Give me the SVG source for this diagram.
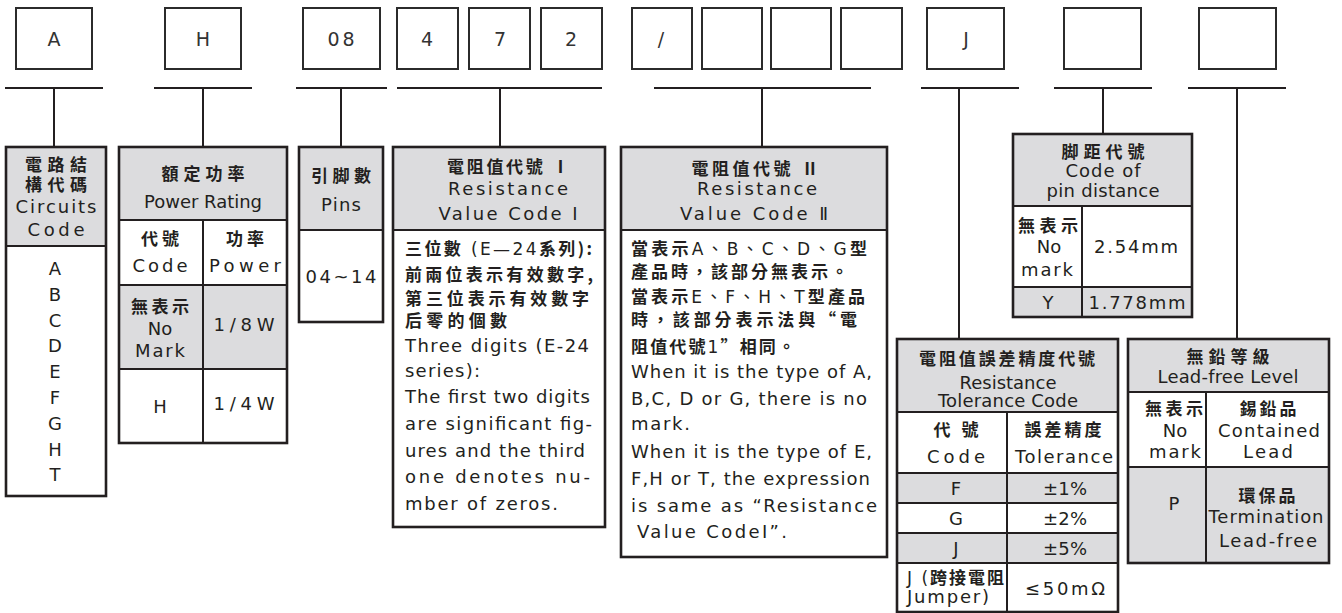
<svg xmlns="http://www.w3.org/2000/svg" width="1342" height="613" viewBox="0 0 1342 613">
<style>
.bx{fill:#fff;stroke:#2b2b2b;stroke-width:2}
.ln{stroke:#231f20;stroke-width:2;fill:none}
.ol{fill:none;stroke:#231f20;stroke-width:2.6}
.il{stroke:#231f20;stroke-width:2;fill:none}
.g{fill:#dcdcde}
text{fill:#231f20}
.e{font-family:"DejaVu Sans","Liberation Sans",sans-serif;font-size:18px}
.t{font-family:"DejaVu Sans","Liberation Sans",sans-serif;font-size:19px;text-anchor:middle;fill:#333}
.c{font-family:"Noto Sans CJK TC","Noto Sans CJK SC",sans-serif;font-weight:bold;font-size:17px}
.m{text-anchor:middle}
.r{font-family:"DejaVu Sans","Noto Sans CJK TC",sans-serif;font-weight:normal}
</style>
<rect width="1342" height="613" fill="#fff"/>

<g id="code-boxes">
<rect class="bx" x="16" y="8" width="76" height="61"/><text class="t" x="54" y="46">A</text>
<rect class="bx" x="165" y="8" width="76" height="61"/><text class="t" x="203" y="46">H</text>
<rect class="bx" x="303" y="8" width="77" height="61"/><text class="t" x="341" y="46" textLength="27">08</text>
<rect class="bx" x="397" y="8" width="61" height="61"/><text class="t" x="427" y="46">4</text>
<rect class="bx" x="469" y="8" width="61" height="61"/><text class="t" x="500" y="46">7</text>
<rect class="bx" x="541" y="8" width="61" height="61"/><text class="t" x="571" y="46">2</text>
<rect class="bx" x="632" y="8" width="60" height="61"/><text class="t" x="661" y="46">/</text>
<rect class="bx" x="702" y="8" width="60" height="61"/>
<rect class="bx" x="771" y="8" width="60" height="61"/>
<rect class="bx" x="841" y="8" width="61" height="61"/>
<rect class="bx" x="927" y="8" width="77" height="61"/><text class="t" x="966" y="46">J</text>
<rect class="bx" x="1064" y="8" width="77" height="61"/>
<rect class="bx" x="1199" y="8" width="77" height="61"/>
</g>

<g id="connectors">
<path class="ln" d="M5 88H103M54 88V147"/>
<path class="ln" d="M154 88H252M203 88V147"/>
<path class="ln" d="M296 88H387M341 88V147"/>
<path class="ln" d="M397 88H602M500 88V147"/>
<path class="ln" d="M654 88H871M762 88V147"/>
<path class="ln" d="M921 88H1019M959 88V339"/>
<path class="ln" d="M1054 88H1152M1103 88V134"/>
<path class="ln" d="M1188 88H1286M1237 88V339"/>
</g>

<g id="circuits-code">
<rect class="g" x="6" y="147" width="100" height="99"/>
<rect class="ol" x="6" y="147" width="100" height="349"/>
<path class="il" d="M6 246H106"/>
<text class="c m" x="56" y="171" textLength="62" font-size="16.5">電路結</text>
<text class="c m" x="56" y="191" textLength="62" font-size="16.5">構代碼</text>
<text class="e m" x="56" y="213" textLength="81">Circuits</text>
<text class="e m" x="56" y="236" textLength="57">Code</text>
<g class="e m">
<text x="55" y="275">A</text>
<text x="55" y="301">B</text>
<text x="55" y="327">C</text>
<text x="55" y="352">D</text>
<text x="55" y="378">E</text>
<text x="55" y="404">F</text>
<text x="55" y="430">G</text>
<text x="55" y="456">H</text>
<text x="55" y="481">T</text>
</g>
</g>

<g id="power-rating">
<rect class="g" x="119" y="147" width="168" height="73"/>
<rect class="g" x="119" y="285" width="168" height="84"/>
<rect class="ol" x="119" y="147" width="168" height="296"/>
<path class="il" d="M119 220H287M119 285H287M119 369H287M203 220V443"/>
<text class="c m" x="203" y="180" textLength="83" font-size="18">額定功率</text>
<text class="e m" x="203" y="208" textLength="118">Power Rating</text>
<text class="c m" x="160" y="245" textLength="38" font-size="18">代號</text>
<text class="e m" x="160" y="272" textLength="55">Code</text>
<text class="c m" x="245" y="245" textLength="38" font-size="18">功率</text>
<text class="e m" x="245" y="272" textLength="72">Power</text>
<text class="c m" x="160" y="313" textLength="58">無表示</text>
<text class="e m" x="160" y="335">No</text>
<text class="e m" x="160" y="357" textLength="50">Mark</text>
<text class="e m" x="244" y="331" textLength="61">1/8W</text>
<text class="e m" x="160" y="413">H</text>
<text class="e m" x="244" y="410" textLength="61">1/4W</text>
</g>

<g id="pins">
<rect class="g" x="299" y="147" width="84" height="83"/>
<rect class="ol" x="299" y="147" width="84" height="175"/>
<path class="il" d="M299 230H383"/>
<text class="c m" x="341" y="182" textLength="60" font-size="19">引脚數</text>
<text class="e m" x="341" y="211" textLength="40">Pins</text>
<text class="e m" x="341" y="283" textLength="71">04~14</text>
</g>

<g id="resistance-value-code-1">
<rect class="g" x="393" y="147" width="212" height="83"/>
<rect class="ol" x="393" y="147" width="212" height="380"/>
<path class="il" d="M393 230H605"/>
<text class="c m" x="508" y="173" textLength="122">電阻值代號 Ⅰ</text>
<text class="e m" x="508" y="195" textLength="120">Resistance</text>
<text class="e m" x="508" y="220" textLength="139">Value Code I</text>
<text class="c" x="405" y="255" textLength="187">三位數<tspan class="r"> (E—24</tspan>系列):</text>
<text class="c" x="405" y="281" textLength="188">前兩位表示有效數字,</text>
<text class="c" x="405" y="305" textLength="184">第三位表示有效數字</text>
<text class="c" x="405" y="327" textLength="102">后零的個數</text>
<g class="e" font-size="16.5">
<text x="405" y="352" textLength="184">Three digits (E-24</text>
<text x="405" y="377" textLength="75">series):</text>
<text x="405" y="403" textLength="185">The first two digits</text>
<text x="405" y="430" textLength="187">are significant fig-</text>
<text x="405" y="457" textLength="180">ures and the third</text>
<text x="405" y="483" textLength="185">one denotes nu-</text>
<text x="405" y="510" textLength="153">mber of  zeros.</text>
</g>
</g>

<g id="resistance-value-code-2">
<rect class="g" x="621" y="147" width="266" height="83"/>
<rect class="ol" x="621" y="147" width="266" height="410"/>
<path class="il" d="M621 230H887"/>
<text class="c m" x="755" y="175" textLength="127">電阻值代號 Ⅱ</text>
<text class="e m" x="757" y="195" textLength="120">Resistance</text>
<text class="e m" x="754" y="220" textLength="148">Value Code Ⅱ</text>
<text class="c" x="631" y="255" textLength="236">當表示<tspan class="r">A、B、C、D、G</tspan>型</text>
<text class="c" x="631" y="278" textLength="217">產品時，該部分無表示。</text>
<text class="c" x="631" y="303" textLength="234">當表示<tspan class="r">E、F、H、T</tspan>型產品</text>
<text class="c" x="631" y="326" textLength="226">時，該部分表示法與“電</text>
<text class="c" x="631" y="353" textLength="164">阻值代號<tspan class="r">1</tspan>”相同。</text>
<g class="e" font-size="17.5">
<text x="631" y="378" textLength="241">When it is the type of A,</text>
<text x="631" y="405" textLength="236">B,C, D or G, there is no</text>
<text x="631" y="430" textLength="59">mark.</text>
<text x="631" y="458" textLength="241">When it is the type of E,</text>
<text x="631" y="485" textLength="239">F,H or T, the expression</text>
<text x="631" y="512" textLength="246">is same as “Resistance</text>
<text x="637" y="538" textLength="150">Value CodeI”.</text>
</g>
</g>

<g id="pin-distance">
<rect class="g" x="1013" y="134" width="179" height="72"/>
<rect class="g" x="1013" y="287" width="179" height="30"/>
<rect class="ol" x="1013" y="134" width="179" height="183"/>
<path class="il" d="M1013 206H1192M1013 287H1192M1082 206V317"/>
<text class="c m" x="1103" y="158" textLength="83">脚距代號</text>
<text class="e m" x="1103" y="177" textLength="75" font-size="17">Code  of</text>
<text class="e m" x="1103" y="197" textLength="113" font-size="17">pin  distance</text>
<text class="c m" x="1048" y="232" textLength="60">無表示</text>
<text class="e m" x="1049" y="253">No</text>
<text class="e m" x="1047" y="276" textLength="52">mark</text>
<text class="e m" x="1136" y="253" textLength="84">2.54mm</text>
<text class="e m" x="1048" y="309">Y</text>
<text class="e m" x="1137" y="309" textLength="97">1.778mm</text>
</g>

<g id="tolerance-code">
<rect class="g" x="897" y="339" width="221" height="73"/>
<rect class="g" x="897" y="473" width="221" height="30"/>
<rect class="g" x="897" y="533" width="221" height="30"/>
<rect class="ol" x="897" y="339" width="221" height="273"/>
<path class="il" d="M897 412H1118M897 473H1118M897 503H1118M897 533H1118M897 563H1118M1007 412V612"/>
<text class="c m" x="1007" y="365" textLength="176">電阻值誤差精度代號</text>
<text class="e m" x="1008" y="389" textLength="97" font-size="16.5">Resistance</text>
<text class="e m" x="1008" y="407" textLength="140" font-size="16.5">Tolerance Code</text>
<text class="c m" x="956" y="436" textLength="45" font-size="18">代 號</text>
<text class="e m" x="956" y="463" textLength="58">Code</text>
<text class="c m" x="1063" y="436" textLength="77" font-size="18">誤差精度</text>
<text class="e m" x="1064" y="463" textLength="98">Tolerance</text>
<text class="e m" x="956" y="495">F</text>
<text class="e m" x="1065" y="495" textLength="44">±1%</text>
<text class="e m" x="956" y="525">G</text>
<text class="e m" x="1065" y="525" textLength="44">±2%</text>
<text class="e m" x="956" y="555">J</text>
<text class="e m" x="1065" y="555" textLength="44">±5%</text>
<text class="c" x="907" y="584" textLength="97" font-size="16"><tspan class="r">J (</tspan>跨接電阻</text>
<text class="e" x="907" y="603" textLength="82" font-size="16.5">Jumper)</text>
<text class="e m" x="1065" y="595" textLength="80">≤50mΩ</text>
</g>

<g id="lead-free-level">
<rect class="g" x="1128" y="339" width="201" height="53"/>
<rect class="g" x="1128" y="467" width="201" height="96"/>
<rect class="ol" x="1128" y="339" width="201" height="224"/>
<path class="il" d="M1128 392H1329M1128 467H1329M1206 392V563"/>
<text class="c m" x="1228" y="363" textLength="83" font-size="18">無鉛等級</text>
<text class="e m" x="1228" y="383" textLength="141">Lead-free Level</text>
<text class="c m" x="1174" y="415" textLength="58">無表示</text>
<text class="e m" x="1175" y="437">No</text>
<text class="e m" x="1175" y="458" textLength="52">mark</text>
<text class="c m" x="1268" y="415" textLength="57">錫鉛品</text>
<text class="e m" x="1269" y="437" textLength="102">Contained</text>
<text class="e m" x="1268" y="458" textLength="50">Lead</text>
<text class="e m" x="1174" y="510">P</text>
<text class="c m" x="1267" y="502" textLength="57">環保品</text>
<text class="e m" x="1266" y="523" textLength="115">Termination</text>
<text class="e m" x="1268" y="547" textLength="98">Lead-free</text>
</g>
</svg>
